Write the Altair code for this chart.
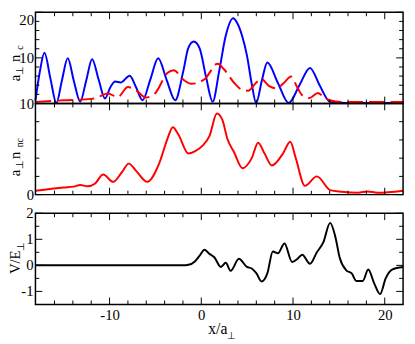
import altair as alt
import pandas as pd

FONT = "Liberation Serif"

# ---------------- data ----------------
blue_x = [-18.08, -17.6, -17.1, -16.45, -15.8, -15.2, -14.56, -13.9, -13.2, -12.55,
          -11.9, -11.2, -10.5, -9.9, -9.4, -8.8, -7.8, -7.1, -6.4, -5.55,
          -4.7, -3.8, -2.85, -1.96, -1.43, -0.82, -0.18, 0.53, 1.24, 1.95,
          2.67, 3.48, 3.9, 4.44, 4.97, 5.5, 5.98, 6.6, 7.2, 8.35,
          9.53, 10.7, 11.85, 12.9, 14.0, 15.0, 17.0, 22.0]
blue_y = [0.6, 7.0, 11.1, 5.5, 0.1, 5.0, 9.9, 5.0, 0.4, 5.0,
          9.7, 5.3, 1.1, 3.6, 4.8, 4.6, 6.1, 3.5, 0.7, 5.3,
          9.9, 5.3, 0.7, 7.1, 12.1, 13.6, 12.1, 5.7, 0.4, 7.1,
          14.9, 18.7, 17.7, 14.9, 10.6, 4.3, 0.1, 5.0, 9.0, 4.5,
          0.1, 4.0, 7.8, 4.0, 0.4, 0.15, 0.1, 0.1]

dash_x = [-18.08, -15.0, -12.0, -11.0, -10.2, -9.1, -8.0, -7.0, -6.05, -5.0,
          -3.7, -3.0, -2.0, -1.07, 0.35, 1.77, 2.5, 3.55, 4.44, 5.1,
          6.0, 6.5, 7.4, 8.2, 9.0, 9.8, 10.4, 11.0, 11.8, 12.7,
          13.3, 14.0, 15.5, 22.0]
dash_y = [0.35, 0.7, 1.0, 1.6, 2.2, 1.4, 3.6, 2.7, 1.3, 2.3,
          6.7, 7.3, 5.3, 4.3, 5.3, 8.7, 7.45, 4.6, 3.0, 2.8,
          4.6, 5.4, 3.8, 3.3, 4.5, 5.9, 3.8, 1.8, 1.2, 2.3,
          1.5, 0.7, 0.3, 0.3]

nnc_x = [-18.08, -15.0, -13.9, -13.2, -12.4, -11.6, -10.7, -9.6, -8.7, -7.9,
         -7.1, -5.9, -4.6, -3.7, -3.1, -2.5, -1.4, -0.7, 0.17, 0.9,
         1.7, 2.3, 2.85, 3.55, 4.5, 5.5, 6.2, 6.9, 7.7, 8.9,
         9.7, 10.3, 11.3, 12.6, 14.05, 15.3, 17.1, 18.1, 19.2, 22.0]
nnc_y = [0.43, 0.78, 0.88, 1.06, 0.92, 1.2, 2.2, 1.4, 2.4, 3.4,
         2.6, 1.4, 3.4, 6.1, 7.4, 6.6, 4.5, 4.75, 5.4, 6.45,
         8.9, 8.2, 6.1, 4.7, 2.9, 4.0, 5.7, 4.5, 3.2, 4.5,
         5.8, 4.0, 0.96, 2.0, 0.5, 0.32, 0.21, 0.35, 0.21, 0.43]

v_x = [-18.08, -2.0, -1.4, -0.7, -0.18, 0.35, 0.89, 1.42, 2.13, 2.67,
       3.2, 4.1, 4.97, 5.5, 6.0, 6.57, 7.2, 7.8, 8.35, 9.07,
       9.9, 10.5, 11.0, 11.85, 12.6, 13.3, 14.05, 14.6, 15.1, 15.8,
       16.4, 16.9, 17.6, 18.2, 18.85, 19.5, 20.1, 20.8, 22.0]
v_y = [0.0, 0.0, 0.02, 0.15, 0.37, 0.6, 0.44, 0.31, -0.06, 0.1,
       -0.21, 0.25, -0.06, -0.12, -0.3, -0.62, -0.31, 0.53, 0.46, 0.84,
       0.13, 0.25, 0.41, 0.06, 0.5, 0.88, 1.63, 1.12, 0.28, -0.19,
       -0.31, -0.6, -0.6, -0.16, -0.69, -1.1, -0.5, -0.16, -0.06]

x_major = [-10, 0, 10, 20]
x_minor = [-16, -14, -12, -8, -6, -4, -2, 2, 4, 6, 8, 12, 14, 16, 18]
top_major = [0, 10, 20]
top_minor = [2, 4, 6, 8, 12, 14, 16, 18]
top_labels = [10, 20]
mid_major = [0, 10]
mid_minor = [2, 4, 6, 8]
mid_labels = [0, 10]
bot_major = [-1, 0, 1, 2]
bot_minor = [-0.5, 0.5, 1.5]
bot_labels = [-1, 0, 1, 2]
bot_label_text = ["-1", "0", "1", "2"]

# ---------------- layout constants ----------------
XDOM = [-18.08, 22.0]
W = 375
H = 93
GAP = 19
TICK_MAJ = 7
TICK_MIN = 4


def y_axis(values, flush, show):
    return alt.Axis(values=values, title=None, ticks=False, tickSize=0, domain=False,
                    grid=False, labels=show, labelFont=FONT, labelFontSize=15,
                    labelColor="black", labelPadding=2, labelFlush=flush,
                    labelOverlap=False, labelExpr="'' + datum.value")


def x_axis(show):
    return alt.Axis(values=x_major, title=None, ticks=False, tickSize=0, domain=False,
                    grid=False, labels=show, labelFont=FONT, labelFontSize=15,
                    labelColor="black", labelPadding=3, labelFlush=False,
                    labelOverlap=False, labelExpr="'' + datum.value")


def panel(lines, ydom, yframe, ymaj, ymin, ylabels, flush, show_x, height, top_off,
          texts, ytext=None):
    xs = alt.Scale(domain=XDOM, nice=False, zero=False)
    ys = alt.Scale(domain=ydom, nice=False, zero=False)
    frame_df = pd.DataFrame({"x1": [XDOM[0]], "x2": [XDOM[1]],
                             "y1": [yframe[0]], "y2": [yframe[1]]})
    layers = []
    # first layer carries the axes (invisible rect)
    layers.append(alt.Chart(frame_df).mark_rect(opacity=0).encode(
        x=alt.X("x1:Q", scale=xs, axis=x_axis(show_x)), x2="x2:Q",
        y=alt.Y("y1:Q", scale=ys, axis=y_axis(ylabels, flush, ytext is None)), y2="y2:Q"))

    for lx, ly, color, dash in lines:
        df = pd.DataFrame({"x": lx, "y": ly})
        kw = dict(color=color, strokeWidth=2, interpolate="monotone")
        if dash:
            kw["strokeDash"] = dash
        layers.append(alt.Chart(df).mark_line(**kw).encode(
            x=alt.X("x:Q", scale=xs), y=alt.Y("y:Q", scale=ys)))

    def rules(vals, **enc):
        return alt.Chart(pd.DataFrame({"v": vals})).mark_rule(
            color="black", strokeWidth=1).encode(**enc)

    X = alt.X("v:Q", scale=xs)
    Y = alt.Y("v:Q", scale=ys)
    for vals, L in [(x_major, TICK_MAJ), (x_minor, TICK_MIN)]:
        layers.append(rules(vals, x=X, y=alt.value(top_off), y2=alt.value(top_off + L)))
        layers.append(rules(vals, x=X, y=alt.value(height - L), y2=alt.value(height)))
    for vals, L in [(ymaj, TICK_MAJ), (ymin, TICK_MIN)]:
        layers.append(rules(vals, y=Y, x=alt.value(0), x2=alt.value(L)))
        layers.append(rules(vals, y=Y, x=alt.value(W - L), x2=alt.value(W)))

    layers.append(alt.Chart(frame_df).mark_rect(
        fillOpacity=0, fill="white", stroke="black", strokeWidth=1.5).encode(
        x=alt.X("x1:Q", scale=xs), x2="x2:Q",
        y=alt.Y("y1:Q", scale=ys), y2="y2:Q"))

    if ytext is not None:
        ldf = pd.DataFrame({"v": ylabels, "s": ytext})
        layers.append(alt.Chart(ldf).mark_text(
            font=FONT, fontSize=15, align="right", baseline="middle", color="black").encode(
            x=alt.value(-2), y=alt.Y("v:Q", scale=ys), text="s:N"))

    for s, tx, ty, size, angle in texts:
        layers.append(alt.Chart(pd.DataFrame({"t": [s]})).mark_text(
            font=FONT, fontSize=size, angle=angle, align="center",
            baseline="middle", color="black").encode(
            text="t:N", x=alt.value(tx), y=alt.value(ty)))
    return alt.layer(*layers).properties(width=W, height=height)


MX = -20.5   # main title letters (rotated)
SX = -15.5   # subscript letters (rotated)

top = panel([(blue_x, blue_y, "#0000ff", None), (dash_x, dash_y, "#ff0000", [16, 6])],
            [0, 20], [0, 20], top_major, top_minor, top_labels, True, False, H, 0,
            [("a", MX, 67, 15, 270), ("⊥", SX, 59, 10, 270),
             ("n", MX, 47, 15, 270), ("c", SX, 36, 10, 270)])

mid = panel([(nnc_x, nnc_y, "#ff0000", None)],
            [0, 10], [0, 10], mid_major, mid_minor, mid_labels, False, False, H, 0,
            [("a", MX, 71, 15, 270), ("⊥", SX, 62, 10, 270),
             ("n", MX, 53, 15, 270), ("nc", SX, 40, 10, 270)])

bot_top = 2 + GAP * 3.5 / H
bot = panel([(v_x, v_y, "#000000", None)],
            [-1.5, bot_top], [-1.5, 2], bot_major, bot_minor, bot_labels, False, True,
            H + GAP, GAP,
            [("V/E", MX, GAP + 50, 15, 270), ("⊥", SX + 1, GAP + 34, 10, 270),
             ("x/a", 186, H + GAP + 25, 16, 0), ("⊥", 200, H + GAP + 32, 10, 0)],
            ytext=bot_label_text)

chart = alt.VConcatChart(vconcat=[top, mid, bot], spacing=0, bounds="flush").properties(
    padding={"left": 0, "top": 0, "right": 0, "bottom": 0}
).configure_view(stroke=None).configure_axis(
    labelFont=FONT, labelFontSize=15, labelColor="black"
).configure_text(font=FONT)

chart.save("out.html", embed_options={"renderer": "svg", "actions": False})
